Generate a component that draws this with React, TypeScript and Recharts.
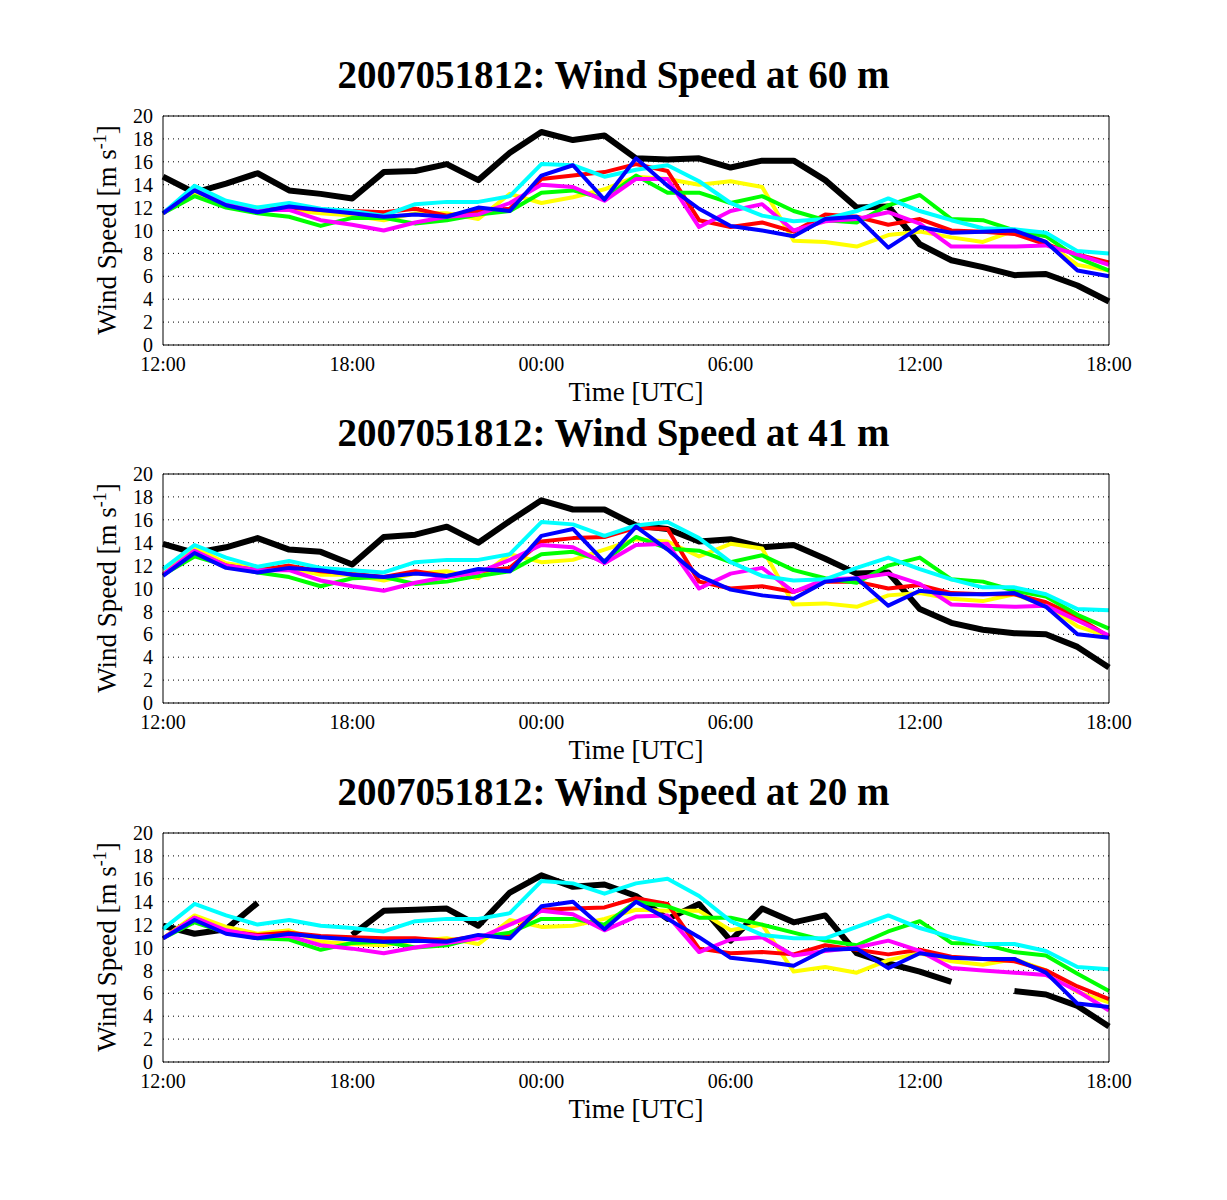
import React from "react";
import { LineChart, Line, XAxis, YAxis, CartesianGrid } from "recharts";

const hours = Array.from({ length: 31 }, (_, i) => i);
const xTicks = [0, 6, 12, 18, 24, 30];
const xTickLabels = ["12:00", "18:00", "00:00", "06:00", "12:00", "18:00"];
const yTicks = [0, 2, 4, 6, 8, 10, 12, 14, 16, 18, 20];
const heights = ["60", "41", "20"];

// 60 m
const black60 = [14.7, 13.3, 14.1, 15.0, 13.5, 13.2, 12.8, 15.1, 15.2, 15.8, 14.4, 16.8, 18.6, 17.9, 18.3, 16.3, 16.2, 16.3, 15.5, 16.1, 16.1, 14.4, 12.0, 12.1, 8.8, 7.4, 6.8, 6.1, 6.2, 5.2, 3.8];
const yellow60 = [11.5, 13.3, 12.1, 12.0, 11.8, 11.5, 11.3, 10.9, 11.5, 11.5, 11.0, 13.2, 12.4, 12.9, 13.6, 14.7, 14.5, 14.0, 14.3, 13.8, 9.1, 9.0, 8.6, 9.6, 9.9, 9.4, 9.0, 10.0, 9.0, 7.0, 6.5];
const red60 = [11.5, 13.6, 12.3, 11.8, 12.0, 11.8, 11.7, 11.6, 11.9, 11.3, 11.7, 11.9, 14.5, 14.8, 15.1, 15.8, 15.2, 10.9, 10.3, 10.7, 9.9, 11.4, 11.2, 10.5, 11.0, 10.0, 9.9, 9.7, 8.8, 7.9, 7.2];
const green60 = [11.5, 13.0, 12.0, 11.5, 11.2, 10.4, 11.1, 11.1, 10.6, 10.9, 11.4, 11.7, 13.3, 13.5, 12.8, 14.8, 13.3, 13.3, 12.4, 13.0, 11.7, 10.9, 10.7, 12.2, 13.1, 11.0, 10.9, 10.0, 9.5, 7.6, 6.5];
const magenta60 = [11.5, 13.7, 12.4, 11.8, 11.8, 10.9, 10.5, 10.0, 10.7, 11.2, 11.4, 12.4, 14.0, 13.8, 12.6, 14.5, 14.5, 10.3, 11.7, 12.3, 10.0, 10.8, 11.0, 11.6, 10.6, 8.6, 8.6, 8.6, 8.7, 7.9, 7.0];
const cyan60 = [11.5, 13.9, 12.6, 12.0, 12.4, 11.9, 11.7, 11.3, 12.3, 12.5, 12.5, 13.0, 15.8, 15.7, 14.7, 15.3, 15.7, 14.3, 12.4, 11.3, 10.8, 11.0, 11.7, 12.8, 11.7, 10.9, 10.2, 10.1, 9.8, 8.2, 8.0];
const blue60 = [11.5, 13.5, 12.2, 11.6, 12.1, 11.8, 11.5, 11.2, 11.4, 11.2, 12.0, 11.7, 14.8, 15.7, 12.7, 16.3, 13.9, 11.9, 10.4, 10.0, 9.5, 11.0, 11.2, 8.5, 10.3, 9.8, 9.9, 10.0, 9.0, 6.5, 6.0];

// 41 m
const black41 = [13.9, 13.1, 13.6, 14.4, 13.4, 13.2, 12.1, 14.5, 14.7, 15.4, 14.0, 15.9, 17.7, 16.9, 16.9, 15.5, 15.2, 14.1, 14.3, 13.6, 13.8, 12.6, 11.3, 11.4, 8.2, 7.0, 6.4, 6.1, 6.0, 4.9, 3.1];
const yellow41 = [11.2, 13.6, 12.2, 11.8, 11.8, 11.2, 11.2, 10.7, 11.3, 11.5, 10.9, 13.0, 12.3, 12.5, 13.4, 14.3, 14.1, 12.8, 13.9, 13.5, 8.6, 8.7, 8.4, 9.4, 9.6, 9.1, 8.9, 9.5, 8.5, 6.7, 5.8];
const red41 = [11.2, 13.2, 12.0, 11.6, 12.0, 11.5, 11.3, 11.0, 11.5, 11.1, 11.5, 11.8, 14.1, 14.4, 14.5, 15.3, 15.2, 10.6, 10.0, 10.2, 9.7, 10.6, 10.6, 10.0, 10.3, 9.6, 9.5, 9.5, 8.8, 7.5, 5.8];
const green41 = [11.2, 12.8, 12.0, 11.4, 11.0, 10.2, 10.9, 11.0, 10.4, 10.6, 11.1, 11.5, 13.0, 13.2, 12.4, 14.5, 13.5, 13.3, 12.3, 12.9, 11.6, 10.9, 10.5, 12.0, 12.7, 10.8, 10.6, 9.8, 9.3, 7.7, 6.5];
const magenta41 = [11.2, 13.3, 12.0, 11.6, 11.6, 10.7, 10.2, 9.8, 10.5, 11.0, 11.4, 12.5, 13.8, 13.6, 12.2, 13.8, 13.9, 10.0, 11.3, 11.8, 9.7, 10.8, 10.9, 11.3, 10.4, 8.6, 8.5, 8.4, 8.5, 7.2, 5.9];
const cyan41 = [11.7, 13.8, 12.7, 11.9, 12.4, 11.8, 11.6, 11.4, 12.3, 12.5, 12.5, 13.0, 15.8, 15.6, 14.6, 15.5, 15.8, 14.4, 12.3, 11.1, 10.7, 10.8, 11.8, 12.7, 11.7, 10.8, 10.1, 10.1, 9.5, 8.2, 8.1];
const blue41 = [11.1, 13.1, 11.8, 11.4, 11.8, 11.6, 11.2, 11.0, 11.3, 11.1, 11.7, 11.5, 14.6, 15.2, 12.3, 15.4, 13.4, 11.1, 9.9, 9.4, 9.1, 10.6, 10.9, 8.5, 9.8, 9.5, 9.5, 9.6, 8.4, 6.0, 5.7];

// 20 m
const black20 = [11.9, 11.2, 11.6, 13.9, null, null, 11.1, 13.2, 13.3, 13.4, 11.9, 14.8, 16.3, 15.3, 15.5, 14.5, 12.5, 13.8, 10.6, 13.4, 12.2, 12.8, 9.5, 8.6, 7.9, 7.0, null, 6.2, 5.9, 4.9, 3.1];
const yellow20 = [10.8, 12.8, 11.8, 11.2, 11.5, 10.5, 10.3, 10.2, 10.6, 10.8, 10.3, 12.4, 11.8, 11.9, 12.5, 13.3, 13.2, 13.2, 11.5, 12.0, 7.9, 8.3, 7.8, 8.9, 9.5, 8.8, 8.5, 9.0, 8.0, 6.1, 5.2];
const red20 = [10.8, 12.6, 11.4, 11.1, 11.3, 11.0, 10.9, 10.8, 10.8, 10.6, 11.0, 11.1, 13.3, 13.4, 13.5, 14.3, 13.8, 9.9, 9.5, 9.6, 9.4, 10.2, 9.8, 9.4, 9.8, 9.2, 9.0, 8.8, 8.0, 6.6, 5.5];
const green20 = [10.8, 12.2, 11.3, 10.8, 10.7, 9.8, 10.4, 10.5, 10.0, 10.2, 10.9, 11.3, 12.5, 12.5, 12.0, 14.0, 13.6, 12.6, 12.6, 12.0, 11.3, 10.6, 10.2, 11.4, 12.3, 10.4, 10.3, 9.6, 9.3, 7.7, 6.2];
const magenta20 = [10.8, 12.6, 11.5, 11.0, 11.0, 10.2, 9.9, 9.5, 10.0, 10.4, 10.8, 12.0, 13.2, 12.9, 11.5, 12.7, 12.8, 9.6, 10.7, 10.9, 9.3, 9.7, 10.0, 10.6, 9.7, 8.2, 8.0, 7.8, 7.6, 6.2, 4.5];
const cyan20 = [11.6, 13.8, 12.8, 12.0, 12.4, 11.9, 11.7, 11.4, 12.3, 12.5, 12.5, 13.0, 15.8, 15.6, 14.7, 15.6, 16.0, 14.5, 12.3, 11.1, 10.8, 10.8, 11.8, 12.8, 11.7, 10.9, 10.3, 10.3, 9.7, 8.3, 8.1];
const blue20 = [10.8, 12.4, 11.2, 10.8, 11.2, 10.9, 10.7, 10.5, 10.6, 10.5, 11.1, 10.8, 13.6, 14.0, 11.6, 14.0, 12.5, 10.9, 9.1, 8.8, 8.4, 9.8, 9.9, 8.2, 9.5, 9.1, 9.0, 9.0, 7.8, 5.1, 4.8];

const panels = [
  [black60, yellow60, red60, green60, magenta60, cyan60, blue60],
  [black41, yellow41, red41, green41, magenta41, cyan41, blue41],
  [black20, yellow20, red20, green20, magenta20, cyan20, blue20],
];
const seriesKeys = ["black", "yellow", "red", "green", "magenta", "cyan", "blue"];
const seriesColors = ["#000000", "#ffff00", "#ff0000", "#00ff00", "#ff00ff", "#00ffff", "#0000ff"];

const FONT = "'Liberation Serif', 'Times New Roman', serif";
const plotTops = [115, 473, 832];

function YLabel() {
  return (
    <text transform="translate(116,190) rotate(-90)" textAnchor="middle" fontFamily={FONT} fontSize={27} fill="#000">
      Wind Speed [m s<tspan dy={-10} fontSize={18}>-1</tspan><tspan dy={10}>]</tspan>
    </text>
  );
}

function Panel({ idx }: { idx: number }) {
  const series = panels[idx];
  const data = hours.map((h, i) => {
    const row: Record<string, number | null> = { h };
    seriesKeys.forEach((k, s) => (row[k] = series[s][i]));
    return row;
  });
  const top = plotTops[idx] - 75;
  return (
    <div style={{ position: "absolute", left: 0, top, width: 1227, height: 380 }}>
      <div style={{ position: "absolute", left: 0, width: 1227, top: 12, textAlign: "center", fontFamily: FONT, fontWeight: "bold", fontSize: 39, lineHeight: "46px" }}>
        2007051812: Wind Speed at {heights[idx]} m
      </div>
      <LineChart width={1227} height={380} data={data} margin={{ top: 75, right: 117, bottom: 25, left: 123 }}>
        <CartesianGrid vertical={false} horizontal stroke="#000" strokeDasharray="1 4" />
        <XAxis
          dataKey="h" type="number" domain={[0, 30]} ticks={xTicks}
          tickFormatter={(v: number) => xTickLabels[xTicks.indexOf(v)]}
          stroke="#000" tickLine={false} tickMargin={6} height={50}
          tick={{ fontFamily: FONT, fontSize: 20, fill: "#000" }}
          label={{ value: "Time [UTC]", position: "insideBottom", offset: -6, fontFamily: FONT, fontSize: 27, fill: "#000" }}
        />
        <XAxis xAxisId="top" orientation="top" dataKey="h" type="number" domain={[0, 30]} ticks={xTicks} tick={false} stroke="#000" height={1} />
        <YAxis
          domain={[0, 20]} ticks={yTicks} interval={0} stroke="#000" tickLine={false} tickMargin={4} width={40}
          tick={{ fontFamily: FONT, fontSize: 20, fill: "#000" }}
        />
        <YAxis yAxisId="right" orientation="right" domain={[0, 20]} ticks={yTicks} tick={false} stroke="#000" width={1} />
        {seriesKeys.map((k, s) => (
          <Line key={k} dataKey={k} stroke={seriesColors[s]} strokeWidth={s === 0 ? 6 : 4} dot={false} isAnimationActive={false} strokeLinejoin="round" />
        ))}
        <YLabel />
      </LineChart>
    </div>
  );
}

export default function App() {
  return (
    <div style={{ position: "absolute", left: 0, top: 0, width: 1227, height: 1200, background: "#fff" }}>
      {[0, 1, 2].map(i => <Panel key={i} idx={i} />)}
    </div>
  );
}
